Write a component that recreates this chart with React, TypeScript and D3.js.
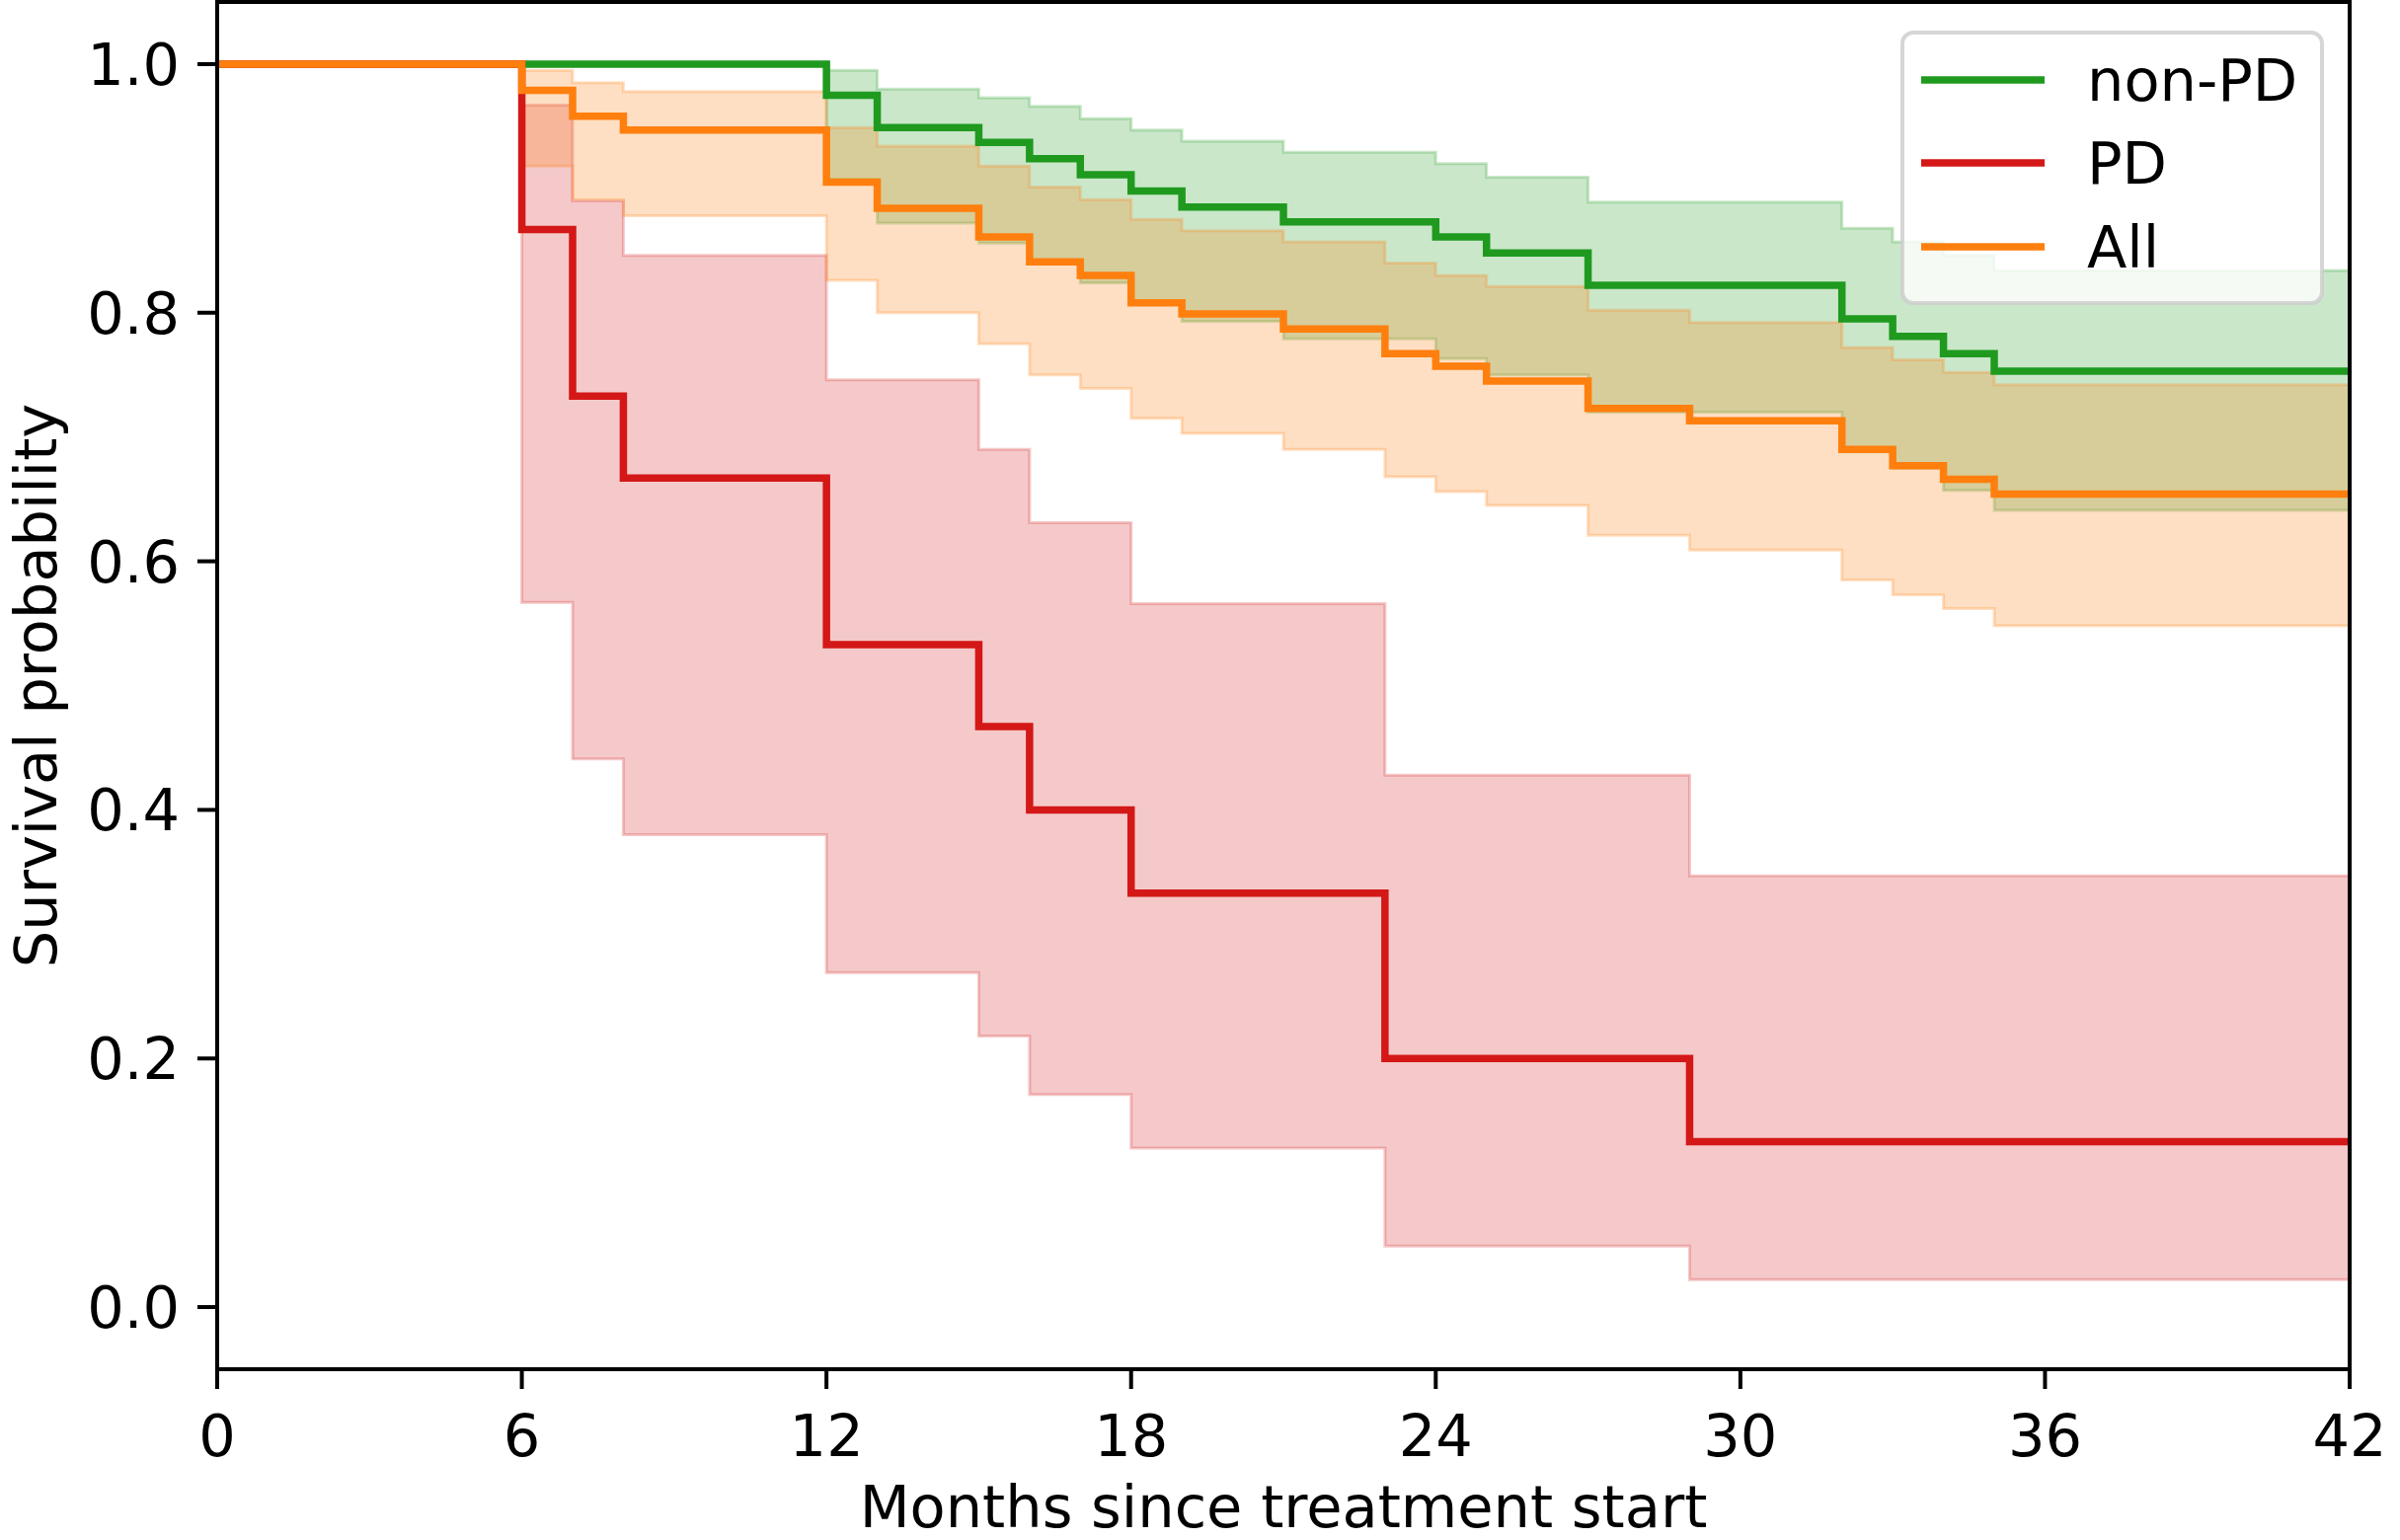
import * as d3 from 'd3'

document.body.style.margin = '0'

const W = 2431
const H = 1560

// Kaplan-Meier step data: change times (months), estimate, 95% CI
const nonPdTimes = [0, 12, 13, 15, 16, 17, 18, 19, 21, 24, 25, 27, 32, 33, 34, 35, 42]
const nonPdSurv = [1, 0.975, 0.949, 0.937, 0.924, 0.911, 0.898, 0.885, 0.873, 0.861, 0.848, 0.822, 0.795, 0.781, 0.767, 0.753, 0.753]
const nonPdUpper = [1, 0.995, 0.98, 0.973, 0.966, 0.956, 0.947, 0.938, 0.929, 0.92, 0.909, 0.889, 0.868, 0.857, 0.846, 0.834, 0.834]
const nonPdLower = [1, 0.907, 0.872, 0.856, 0.84, 0.824, 0.808, 0.793, 0.779, 0.763, 0.75, 0.72, 0.69, 0.675, 0.657, 0.641, 0.641]

const pdTimes = [0, 6, 7, 8, 12, 15, 16, 18, 23, 29, 42]
const pdSurv = [1, 0.867, 0.733, 0.667, 0.533, 0.467, 0.4, 0.333, 0.2, 0.133, 0.133]
const pdUpper = [1, 0.967, 0.89, 0.846, 0.746, 0.69, 0.631, 0.566, 0.428, 0.347, 0.347]
const pdLower = [1, 0.567, 0.441, 0.38, 0.269, 0.218, 0.171, 0.128, 0.049, 0.022, 0.022]

const allTimes = [0, 6, 7, 8, 12, 13, 15, 16, 17, 18, 19, 21, 23, 24, 25, 27, 29, 32, 33, 34, 35, 42]
const allSurv = [1, 0.979, 0.958, 0.947, 0.905, 0.884, 0.861, 0.841, 0.83, 0.808, 0.799, 0.787, 0.767, 0.757, 0.745, 0.723, 0.713, 0.69, 0.677, 0.666, 0.654, 0.654]
const allUpper = [1, 0.995, 0.985, 0.978, 0.949, 0.934, 0.918, 0.901, 0.891, 0.875, 0.866, 0.857, 0.84, 0.83, 0.821, 0.802, 0.792, 0.772, 0.762, 0.752, 0.742, 0.742]
const allLower = [1, 0.918, 0.891, 0.878, 0.826, 0.8, 0.775, 0.75, 0.739, 0.715, 0.703, 0.69, 0.668, 0.656, 0.645, 0.621, 0.609, 0.585, 0.573, 0.562, 0.548, 0.548]

const xTicks = [0, 6, 12, 18, 24, 30, 36, 42]
const yTicks = [0, 0.2, 0.4, 0.6, 0.8, 1.0]

type Group = {
  name: string
  color: string
  times: number[]
  surv: number[]
  lower: number[]
  upper: number[]
}

const groups: Group[] = [
  { name: 'non-PD', color: '#1f9a1f', times: nonPdTimes, surv: nonPdSurv, lower: nonPdLower, upper: nonPdUpper },
  { name: 'PD', color: '#d41717', times: pdTimes, surv: pdSurv, lower: pdLower, upper: pdUpper },
  { name: 'All', color: '#ff7f0e', times: allTimes, surv: allSurv, lower: allLower, upper: allUpper },
]

const fillColor: Record<string, string> = {
  'non-PD': '#2ca02c',
  PD: '#d62728',
  All: '#ff7f0e',
}

const FONT = '"DejaVu Sans", sans-serif'
const FS = 59

export default function App() {
  const left = 220
  const right = 2380
  const top = 2
  const bottom = 1387

  const x = d3.scaleLinear().domain([0, 42]).range([left, right])
  const y = d3.scaleLinear().domain([-0.05, 1.05]).range([bottom, top])

  const line = d3
    .line<[number, number]>()
    .x((d) => x(d[0]))
    .y((d) => y(d[1]))
    .curve(d3.curveStepAfter)

  const area = d3
    .area<[number, number, number]>()
    .x((d) => x(d[0]))
    .y0((d) => y(d[1]))
    .y1((d) => y(d[2]))
    .curve(d3.curveStepAfter)

  const legendX = 1927
  const legendY = 33
  const legendRows = [81, 165, 250]

  return (
    <svg width={W} height={H} style={{ display: 'block', background: '#fff' }} fontFamily={FONT}>
      <rect width={W} height={H} fill="#fff" />

      {/* confidence bands */}
      {groups.map((g) => {
        const pts = g.times.map((t, i) => [t, g.lower[i], g.upper[i]] as [number, number, number])
        return (
          <path
            key={`ci-${g.name}`}
            d={area(pts) || ''}
            fill={fillColor[g.name]}
            fillOpacity={0.25}
            stroke={fillColor[g.name]}
            strokeOpacity={0.25}
            strokeWidth={3}
          />
        )
      })}

      {/* survival curves */}
      {groups.map((g) => {
        const pts = g.times.map((t, i) => [t, g.surv[i]] as [number, number])
        return (
          <path
            key={`km-${g.name}`}
            d={line(pts) || ''}
            fill="none"
            stroke={g.color}
            strokeWidth={7.5}
            strokeLinejoin="miter"
          />
        )
      })}

      {/* frame */}
      <rect x={left} y={top} width={right - left} height={bottom - top} fill="none" stroke="#000" strokeWidth={4} />

      {/* x axis */}
      {xTicks.map((t) => (
        <g key={`xt-${t}`} transform={`translate(${x(t)},${bottom})`}>
          <line y1={0} y2={20} stroke="#000" strokeWidth={4} />
          <text y={88} textAnchor="middle" fontSize={FS} fill="#000">
            {t}
          </text>
        </g>
      ))}
      <text x={(left + right) / 2} y={1547} textAnchor="middle" fontSize={FS} fill="#000">
        Months since treatment start
      </text>

      {/* y axis */}
      {yTicks.map((v) => (
        <g key={`yt-${v}`} transform={`translate(${left},${y(v)})`}>
          <line x1={0} x2={-20} stroke="#000" strokeWidth={4} />
          <text x={-38} y={21} textAnchor="end" fontSize={FS} fill="#000">
            {v.toFixed(1)}
          </text>
        </g>
      ))}
      <text
        transform={`translate(57,${(top + bottom) / 2}) rotate(-90)`}
        textAnchor="middle"
        fontSize={FS}
        fill="#000"
      >
        Survival probability
      </text>

      {/* legend */}
      <rect
        x={legendX}
        y={legendY}
        width={2352 - legendX}
        height={307 - legendY}
        rx={11}
        fill="#fff"
        fillOpacity={0.8}
        stroke="#cccccc"
        strokeOpacity={0.8}
        strokeWidth={4}
      />
      {groups.map((g, i) => (
        <g key={`lg-${g.name}`}>
          <line x1={1946} x2={2071} y1={legendRows[i]} y2={legendRows[i]} stroke={g.color} strokeWidth={7.5} />
          <text x={2114} y={legendRows[i] + 21} fontSize={FS} fill="#000">
            {g.name}
          </text>
        </g>
      ))}
    </svg>
  )
}
